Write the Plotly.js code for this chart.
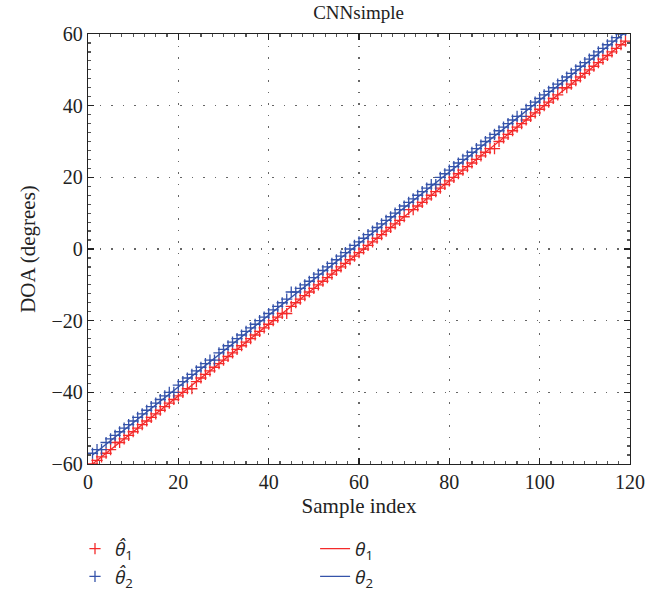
<!DOCTYPE html>
<html>
<head>
<meta charset="utf-8">
<script src="https://cdn.plot.ly/plotly-3.0.1.min.js"></script>
<style>html,body{margin:0;padding:0;background:#fff}#chart{width:664px;height:599px}</style>
</head>
<body>
<div id="chart"></div>
<script>
const sampleIndex = [1,2,3,4,5,6,7,8,9,10,11,12,13,14,15,16,17,18,19,20,21,22,23,24,25,26,27,28,29,30,31,32,33,34,35,36,37,38,39,40,41,42,43,44,45,46,47,48,49,50,51,52,53,54,55,56,57,58,59,60,61,62,63,64,65,66,67,68,69,70,71,72,73,74,75,76,77,78,79,80,81,82,83,84,85,86,87,88,89,90,91,92,93,94,95,96,97,98,99,100,101,102,103,104,105,106,107,108,109,110,111,112,113,114,115,116,117,118,119];

const theta1 = [-60,-59,-58,-57,-56,-55,-54,-53,-52,-51,-50,-49,-48,-47,-46,-45,-44,-43,-42,-41,-40,-39,-38,-37,-36,-35,-34,-33,-32,-31,-30,-29,-28,-27,-26,-25,-24,-23,-22,-21,-20,-19,-18,-17,-16,-15,-14,-13,-12,-11,-10,-9,-8,-7,-6,-5,-4,-3,-2,-1,0,1,2,3,4,5,6,7,8,9,10,11,12,13,14,15,16,17,18,19,20,21,22,23,24,25,26,27,28,29,30,31,32,33,34,35,36,37,38,39,40,41,42,43,44,45,46,47,48,49,50,51,52,53,54,55,56,57,58];

const theta2 = [-57.5,-56.5,-55.5,-54.5,-53.5,-52.5,-51.5,-50.5,-49.5,-48.5,-47.5,-46.5,-45.5,-44.5,-43.5,-42.5,-41.5,-40.5,-39.5,-38.5,-37.5,-36.5,-35.5,-34.5,-33.5,-32.5,-31.5,-30.5,-29.5,-28.5,-27.5,-26.5,-25.5,-24.5,-23.5,-22.5,-21.5,-20.5,-19.5,-18.5,-17.5,-16.5,-15.5,-14.5,-13.5,-12.5,-11.5,-10.5,-9.5,-8.5,-7.5,-6.5,-5.5,-4.5,-3.5,-2.5,-1.5,-0.5,0.5,1.5,2.5,3.5,4.5,5.5,6.5,7.5,8.5,9.5,10.5,11.5,12.5,13.5,14.5,15.5,16.5,17.5,18.5,19.5,20.5,21.5,22.5,23.5,24.5,25.5,26.5,27.5,28.5,29.5,30.5,31.5,32.5,33.5,34.5,35.5,36.5,37.5,38.5,39.5,40.5,41.5,42.5,43.5,44.5,45.5,46.5,47.5,48.5,49.5,50.5,51.5,52.5,53.5,54.5,55.5,56.5,57.5,58.5,59.5,60.5];

const theta1Hat = [-60,-59,-58,-57,-56,-54,-54,-53,-52,-51,-50,-49,-48,-47,-46,-45,-44,-43,-42,-41,-40,-39,-39,-37,-36,-35,-34,-33,-32,-31,-30,-29,-28,-27,-26,-25,-24,-23,-22,-21,-20,-19,-18,-18,-16,-15,-14,-13,-12,-11,-10,-9,-8,-7,-6,-5,-4,-3,-2,-1,0,1,2,3,4,5,6,7,8,9,11,11,12,13,14,15,16,17,18,19,20,21,22,23,24,25,26,27,28,28,30,31,32,33,34,35,36,37,38,39,40,41,42,43,45,45,46,47,48,49,50,51,52,53,54,55,56,57,58];

const theta2Hat = [-57,-56,-56,-54,-53,-52,-51,-50,-49,-48,-47,-46,-45,-44,-43,-42,-41,-40,-40,-38,-37,-36,-35,-34,-33,-32,-31,-31,-29,-28,-27,-26,-25,-24,-23,-22,-21,-20,-19,-18,-17,-16,-15,-14,-12,-12,-11,-10,-9,-8,-7,-6,-5,-4,-3,-2,-1,0,1,2,3,4,5,6,7,8,9,10,11,12,13,14,15,16,17,18,18,20,21,22,23,24,25,26,27,28,29,30,31,32,33,34,35,36,37,37,39,40,41,42,43,44,45,46,47,48,49,50,51,52,53,54,55,56,57,58,59,60,61];

const xTicks = [0,20,40,60,80,100,120];
const yTicks = [-60,-40,-20,0,20,40,60];
const yTickText = ['\u221260','\u221240','\u221220','0','20','40','60'];

const RED = '#f42a2a';
const BLUE = '#3553aa';
const FONT = 'Liberation Serif, DejaVu Serif, serif';
const LEGFONT = 'Open Sans, DejaVu Sans, sans-serif';

const traces = [
  {x: sampleIndex, y: theta1, mode: 'lines', name: '<i>θ</i><sub>1</sub>', line: {color: RED, width: 1.3}, legend: 'legend2'},
  {x: sampleIndex, y: theta2, mode: 'lines', name: '<i>θ</i><sub>2</sub>', line: {color: BLUE, width: 1.3}, legend: 'legend2'},
  {x: sampleIndex, y: theta1Hat, mode: 'markers', name: '<i>θ\u0302</i><sub>1</sub>', marker: {symbol: 'cross-thin-open', size: 8, color: RED, line: {color: RED, width: 1.3}}, legend: 'legend'},
  {x: sampleIndex, y: theta2Hat, mode: 'markers', name: '<i>θ\u0302</i><sub>2</sub>', marker: {symbol: 'cross-thin-open', size: 8, color: BLUE, line: {color: BLUE, width: 1.3}}, legend: 'legend'}
];

const axisCommon = {
  showline: true, linecolor: '#222', linewidth: 1.2, mirror: 'allticks',
  ticks: 'inside', ticklen: 6, tickcolor: '#222', tickwidth: 1.2,
  showgrid: true, gridcolor: '#666', griddash: '1.5px,10px', gridwidth: 1.2,
  zeroline: false, automargin: false,
  tickfont: {family: FONT, size: 20, color: '#222'},
  minor: {ticks: 'inside', ticklen: 3, tickcolor: '#555', dtick: 2.5, showgrid: false}
};

const layout = {
  width: 664, height: 599,
  margin: {l: 88, r: 34, t: 34, b: 135, autoexpand: false},
  paper_bgcolor: '#fff', plot_bgcolor: '#fff',
  font: {family: FONT, color: '#222'},
  title: {text: 'CNNsimple', font: {family: FONT, size: 19, color: '#222'}, x: 0.54, xanchor: 'center', y: 0.98, yanchor: 'middle', yref: 'container'},
  xaxis: Object.assign({}, axisCommon, {
    range: [0, 120], tickvals: xTicks, ticktext: xTicks.map(String),
    title: {text: 'Sample index', font: {family: FONT, size: 21, color: '#222'}, standoff: 6}
  }),
  yaxis: Object.assign({}, axisCommon, {
    range: [-60, 60], tickvals: yTicks, ticktext: yTickText,
    title: {text: 'DOA (degrees)', font: {family: FONT, size: 21, color: '#222'}, standoff: 10}
  }),
  showlegend: true,
  legend: {x: -0.024, xanchor: 'left', y: -0.153, yanchor: 'top', orientation: 'v', bgcolor: 'rgba(0,0,0,0)', font: {family: LEGFONT, size: 19, color: '#222'}, traceorder: 'normal'},
  legend2: {x: 0.419, xanchor: 'left', y: -0.153, yanchor: 'top', orientation: 'v', bgcolor: 'rgba(0,0,0,0)', font: {family: LEGFONT, size: 19, color: '#222'}, traceorder: 'normal'}
};

Plotly.newPlot('chart', traces, layout, {displayModeBar: false, staticPlot: true});
</script>
</body>
</html>
